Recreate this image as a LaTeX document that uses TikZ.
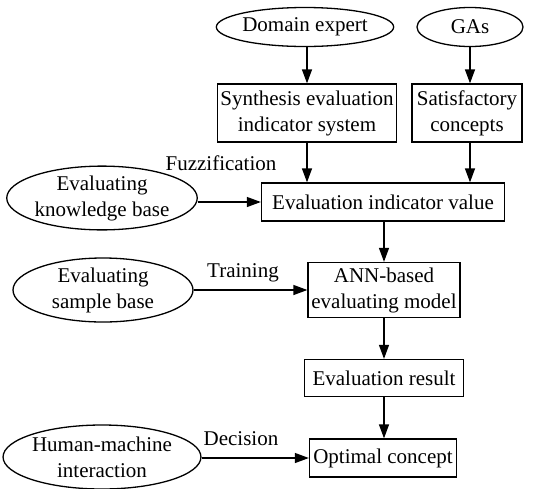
\documentclass[tikz,border=0pt]{standalone}
\usepackage{fontspec}
\setmainfont{Liberation Serif}
\usetikzlibrary{arrows.meta,shapes.geometric}
\begin{document}
\begin{tikzpicture}[x=1pt,y=-1pt,
  every node/.style={font=\fontsize{21}{26}\selectfont, inner sep=0pt, align=center},
  ell/.style={draw, ellipse, line width=1.3pt},
  box/.style={draw, rectangle, line width=1.3pt},
  arr/.style={line width=1.3pt, -{Triangle[length=14pt,width=10pt]}},
  lbl/.style={}]
\useasboundingbox (0,0) rectangle (533,488);
\node[ell, minimum width=149pt, minimum height=39pt] (de) at (305,27) {Domain expert};
\node[ell, minimum width=106pt, minimum height=39pt] (ga) at (470,27) {GAs};
\node[box, minimum width=179pt, minimum height=58pt] (ses) at (307,113) {Synthesis evaluation\\indicator system};
\node[box, minimum width=110pt, minimum height=58pt] (sc) at (467,113) {Satisfactory\\concepts};
\node[box, minimum width=243pt, minimum height=38pt] (eiv) at (383,202) {Evaluation indicator value};
\node[ell, minimum width=181pt, minimum height=57pt] (ekb) at (102,198) {Evaluating\\knowledge base};
\node[box, minimum width=152pt, minimum height=55pt] (ann) at (384,290) {ANN-based\\evaluating model};
\node[ell, minimum width=180pt, minimum height=64pt] (esb) at (103,290) {Evaluating\\sample base};
\node[box, minimum width=159pt, minimum height=37pt] (er) at (384,378) {Evaluation result};
\node[box, minimum width=147pt, minimum height=38pt] (oc) at (383,458) {Optimal concept};
\node[ell, minimum width=181pt, minimum height=64pt] (hm) at (102,457) {Human-machine\\interaction};
\node[lbl] (fz) at (221,163) {Fuzzification};
\node[lbl] (tr) at (243,273) {Training};
\node[lbl] (dc) at (241,439) {Decision};
\draw[arr] (de.south -| ses.north) -- (ses.north);
\draw[arr] (ga.south -| 470,0) -- (470,0 |- sc.north);
\draw[arr] (ses.south) -- (ses.south |- eiv.north);
\draw[arr] (470,0 |- sc.south) -- (470,0 |- eiv.north);
\draw[arr] (ekb.east |- eiv.west) -- (eiv.west);
\draw[arr] (eiv.south -| ann.north) -- (ann.north);
\draw[arr] (esb.east) -- (esb.east -| ann.west);
\draw[arr] (ann.south) -- (ann.south |- er.north);
\draw[arr] (er.south) -- (er.south |- oc.north);
\draw[arr] (hm.east |- oc.west) -- (oc.west);
\end{tikzpicture}
\end{document}
